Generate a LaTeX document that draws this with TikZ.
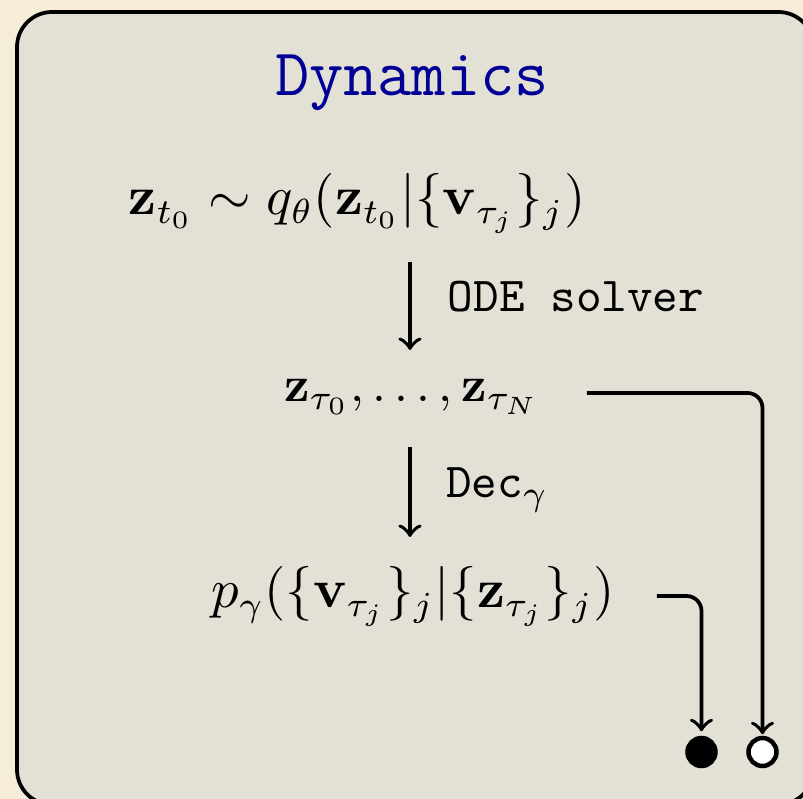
\documentclass[tikz,border=0pt]{standalone}
\usepackage{amsmath}
\definecolor{cream}{RGB}{245,237,216}
\definecolor{boxfill}{RGB}{227,224,213}
\definecolor{titleblue}{RGB}{0,0,150}
\tikzset{
  conn/.style={line width=0.75pt},
  arr/.style={conn,->},
  mathtxt/.style={inner sep=0pt, anchor=base},
  lab/.style={inner sep=0pt, anchor=base west, font=\fontsize{9.76}{12}\selectfont\ttfamily},
  titletxt/.style={inner sep=0pt, anchor=base, text=titleblue, font=\fontsize{13.3}{16}\selectfont\ttfamily},
  dotnode/.style={circle, inner sep=0pt, minimum size=5.6pt, line width=0.9pt, draw=black}
}
\begin{document}
\begin{tikzpicture}[x=0.2pt,y=-0.2pt]
  \useasboundingbox (0,0) rectangle (803,799);
  \fill[cream] (0,0) rectangle (803,799);
  \draw[line width=0.75pt, fill=boxfill, rounded corners=7pt] (17,12) rectangle (813.5,804.6);

  \node[titletxt] (title) at (412,96) {Dynamics};
  \node[mathtxt, font=\fontsize{10.6}{13}\selectfont] (f1) at (357,215) {$\mathbf{z}_{t_0} \sim q_\theta(\mathbf{z}_{t_0}|\{\mathbf{v}_{\tau_j}\}_j)$};
  \node[mathtxt, font=\fontsize{10}{12}\selectfont] (f2) at (412,402) {$\mathbf{z}_{\tau_0},\ldots,\mathbf{z}_{\tau_N}$};
  \node[mathtxt, font=\fontsize{10.55}{13}\selectfont] (f3) at (413,608) {$p_\gamma(\{\mathbf{v}_{\tau_j}\}_j|\{\mathbf{z}_{\tau_j}\}_j)$};

  \node[lab] (lab1) at (447,312) {ODE solver};
  \node[lab] (lab2) at (445,498) {Dec$_\gamma$};

  \node[dotnode, fill=black] (bc) at (701.5,752) {};
  \node[dotnode, fill=white] (wc) at (762.5,752) {};

  \coordinate (ax) at (410,0);
  \coordinate (s2) at (587,393);
  \coordinate (s3) at (657,596);

  \draw[arr] (ax |- 0,262) -- (ax |- 0,350);
  \draw[arr] (ax |- 0,447) -- (ax |- 0,537);
  \draw[arr, rounded corners=3pt, shorten >=0.3pt] (s2) -| (wc.north);
  \draw[arr, rounded corners=3pt, shorten >=0.9pt] (s3) -| (bc.north);
\end{tikzpicture}
\end{document}
